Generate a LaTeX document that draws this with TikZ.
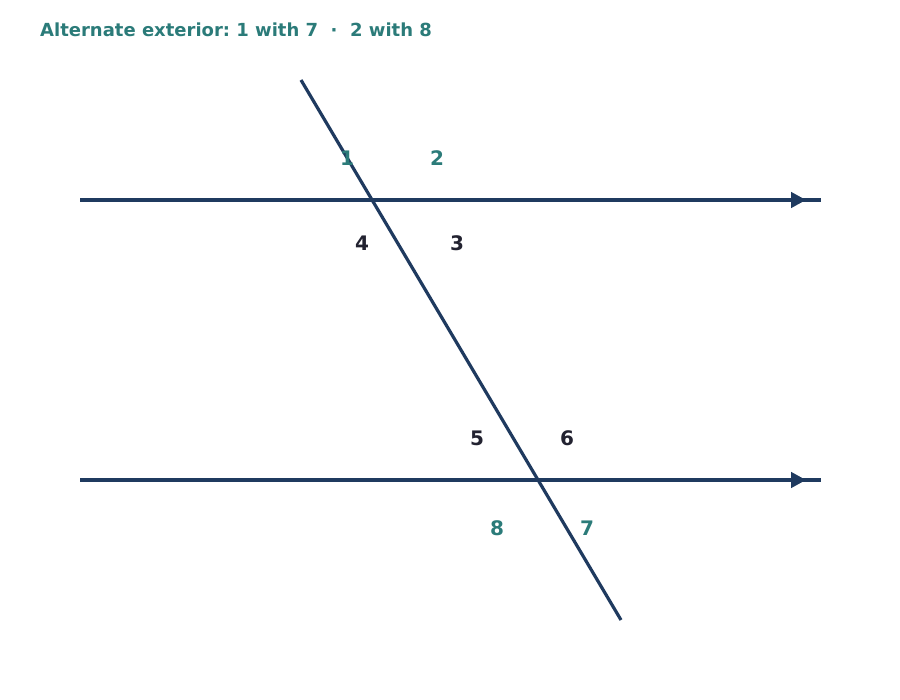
\documentclass[tikz,border=0pt]{standalone}
\usepackage{fontspec}
\setmainfont{DejaVu Sans}
\usetikzlibrary{arrows.meta,decorations.markings}
\definecolor{linenavy}{HTML}{1F3A5F}
\definecolor{extteal}{HTML}{2B7B79}
\definecolor{intdark}{HTML}{222230}
\frenchspacing
\tikzset{
  parallel/.style={line width=4.3pt, linenavy, postaction={decorate},
    decoration={markings, mark=at position 0.98 with {\arrow{Triangle[length=15pt,width=15pt]}}}},
  transversal/.style={line width=3.2pt, linenavy},
  exterior/.style={extteal, font=\bfseries\fontsize{20}{22}\selectfont},
  interior/.style={intdark, font=\bfseries\fontsize{20}{22}\selectfont}
}
\begin{document}
\begin{tikzpicture}[x=1pt,y=-1pt]
  \useasboundingbox (0,0) rectangle (900,700);

  % Titulo
  \node[anchor=base west, extteal, font=\bfseries\fontsize{18}{20}\selectfont, inner sep=0pt]
    (titulo) at (40,37) {Alternate exterior: 1 with 7 \ \textperiodcentered\ \ 2 with 8};

  % Paralelas
  \coordinate (a1) at (80,200);
  \coordinate (a2) at (821,200);
  \coordinate (b1) at (80,480);
  \coordinate (b2) at (821,480);
  \draw[parallel] (a1) -- (a2);
  \draw[parallel] (b1) -- (b2);

  % Transversal
  \coordinate (t1) at (301,80);
  \coordinate (t2) at (621,620);
  \draw[transversal] (t1) -- (t2);

  % Angulos superiores
  \node[exterior] (ang1) at (347,158) {1};
  \node[exterior] (ang2) at (437,158) {2};
  \node[interior] (ang4) at (362,243) {4};
  \node[interior] (ang3) at (457,243) {3};

  % Angulos inferiores
  \node[interior] (ang5) at (477,438) {5};
  \node[interior] (ang6) at (567,438) {6};
  \node[exterior] (ang8) at (497,528) {8};
  \node[exterior] (ang7) at (587,528) {7};
\end{tikzpicture}
\end{document}
